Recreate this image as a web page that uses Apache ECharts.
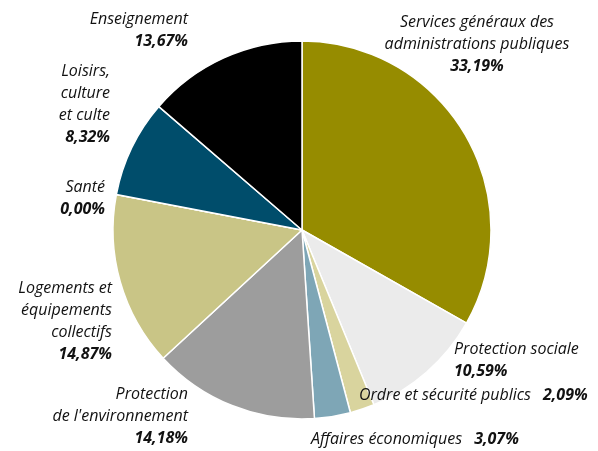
<!DOCTYPE html>
<html>
<head>
<meta charset="utf-8">
<script src="https://cdn.jsdelivr.net/npm/echarts@6/dist/echarts.min.js"></script>
<style>
  html, body { margin: 0; padding: 0; background: #fff; }
  #chart { width: 598px; height: 451px; }
</style>
</head>
<body>
<div id="chart"></div>
<script>
  // slices, clockwise from 12 o'clock
  var labels = [
    'Services généraux des\nadministrations publiques',
    'Protection sociale',
    'Ordre et sécurité publics',
    'Affaires économiques',
    'Protection\nde l\'environnement',
    'Logements et\néquipements\ncollectifs',
    'Santé',
    'Loisirs,\nculture\net culte',
    'Enseignement'
  ];
  var shares = [33.19, 10.59, 2.09, 3.07, 14.18, 14.87, 0.00, 8.32, 13.67];
  var colors = ['#968c00', '#ebebeb', '#d9d49e', '#7ea6b6', '#9d9d9d', '#c9c586', '#c9c586', '#004d6b', '#000000'];

  // where each label sits (x, y of anchor, alignment, inline percent or not)
  var labelPos = [
    {x: 477, y: 11, align: 'center', inline: false},
    {x: 454, y: 338, align: 'left', inline: false},
    {x: 359, y: 384, align: 'left', inline: true},
    {x: 311, y: 428, align: 'left', inline: true},
    {x: 188, y: 383, align: 'right', inline: false},
    {x: 112, y: 277, align: 'right', inline: false},
    {x: 105, y: 176, align: 'right', inline: false},
    {x: 110, y: 60, align: 'right', inline: false},
    {x: 188, y: 8, align: 'right', inline: false}
  ];

  function pct(v) {
    return v.toFixed(2).replace('.', ',') + '%';
  }

  var pieData = [];
  for (var i = 0; i < labels.length; i++) {
    pieData.push({ name: labels[i], value: shares[i], itemStyle: { color: colors[i] } });
  }

  var chart = echarts.init(document.getElementById('chart'));
  chart.setOption({
    animation: false,
    series: [{
      type: 'pie',
      center: [302, 230],
      radius: 189,
      startAngle: 90,
      clockwise: true,
      avoidLabelOverlap: false,
      itemStyle: { borderColor: '#fff', borderWidth: 1.5 },
      labelLine: { show: false },
      label: {
        show: true,
        position: 'outside',
        fontFamily: 'Open Sans',
        formatter: function (p) {
          var lines = p.name.split('\n').map(function (s) { return '{n|' + s + '}'; }).join('\n');
          var sep = labelPos[p.dataIndex].inline ? '{g|}' : '\n';
          return lines + sep + '{p|' + pct(p.value) + '}';
        },
        rich: {
          n: { fontFamily: 'Open Sans', fontStyle: 'italic', fontSize: 16, color: '#111', lineHeight: 22 },
          g: { width: 12 },
          p: { fontFamily: 'Open Sans', fontStyle: 'italic', fontWeight: 'bold', fontSize: 16, color: '#111', lineHeight: 22 }
        }
      },
      labelLayout: function (params) {
        var lp = labelPos[params.dataIndex];
        return { x: lp.x, y: lp.y, align: lp.align, verticalAlign: 'top', hideOverlap: false };
      },
      data: pieData
    }]
  });
</script>
</body>
</html>
